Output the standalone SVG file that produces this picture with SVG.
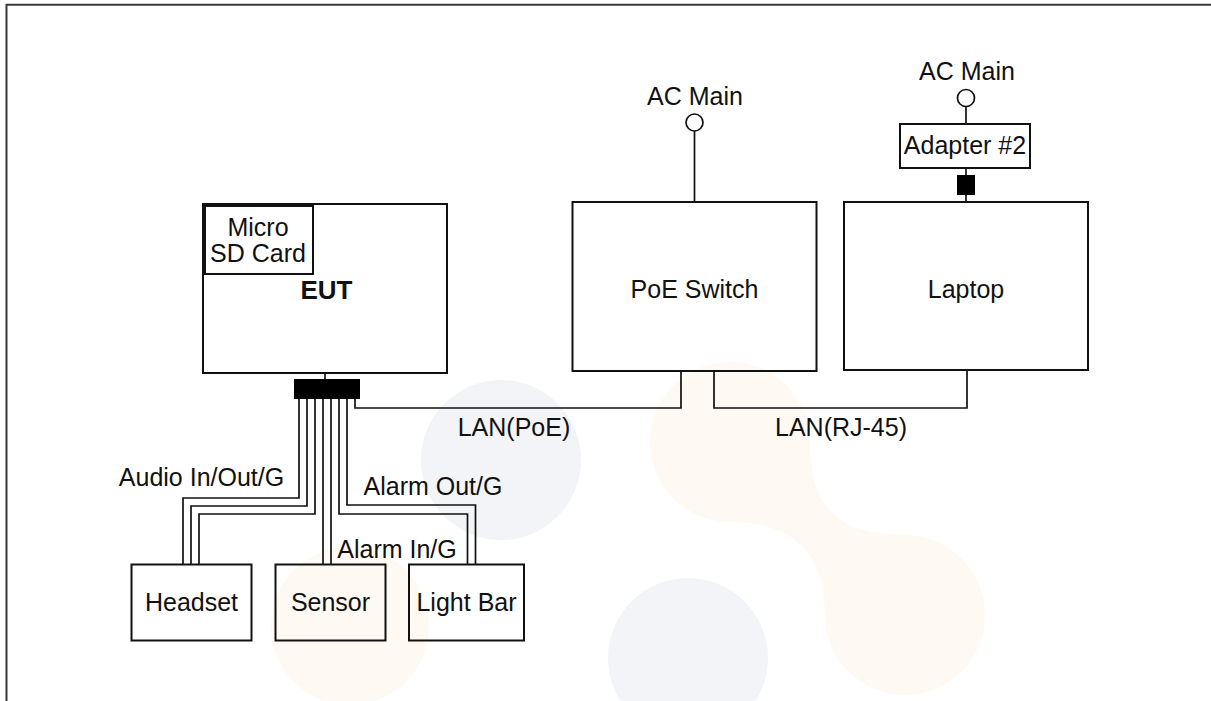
<svg xmlns="http://www.w3.org/2000/svg" width="1211" height="701" viewBox="0 0 1211 701">
<style>
.box{fill:none;stroke:#111;stroke-width:2}
.wire{fill:none;stroke:#111;stroke-width:1.7}
.t{font-family:"Liberation Sans",Arial,sans-serif;font-size:25px;fill:#111;text-anchor:middle}
.b{font-weight:bold;font-size:26px}
.wmg{fill:#f3f4f8}
.wmo{fill:#fef9f2}
</style>
<rect x="0" y="0" width="1211" height="701" fill="#fff"/>
<g id="watermark">
<circle class="wmg" cx="501" cy="460" r="80"/>
<circle class="wmg" cx="688" cy="658" r="80"/>
<circle class="wmo" cx="350" cy="626" r="79"/>
<path class="wmo" d="M650,442 A80,80 0 0 1 810,442 C810,500 830,535 905,535 A80,80 0 0 1 905,695 A80,80 0 0 1 825,615 C825,560 800,522 730,522 A80,80 0 0 1 650,442 Z"/>
</g>
<path d="M6.5,701 V4.8 H1211" fill="none" stroke="#3a3a3a" stroke-width="2"/>
<g id="connectors">
<path class="wire" d="M325,373 V380"/>
<path class="wire" d="M299,399 V498 H183 V565"/>
<path class="wire" d="M307,399 V506 H191 V565"/>
<path class="wire" d="M315,399 V514 H199 V565"/>
<path class="wire" d="M323,399 V565"/>
<path class="wire" d="M331,399 V565"/>
<path class="wire" d="M339,399 V514 H467.5 V565"/>
<path class="wire" d="M347,399 V505 H475.5 V565"/>
<path class="wire" d="M355,399 V408 H681 V371"/>
<path class="wire" d="M714,371 V408 H967 V370"/>
<path class="wire" d="M694.5,131 V202"/>
<path class="wire" d="M966,107 V124"/>
<path class="wire" d="M966,168 V202"/>
<text class="t" x="201.5" y="486">Audio In/Out/G</text>
<text class="t" x="433" y="495">Alarm Out/G</text>
<text class="t" x="397" y="558">Alarm In/G</text>
<text class="t" x="514" y="436">LAN(PoE)</text>
<text class="t" x="841" y="436">LAN(RJ-45)</text>
</g>
<g id="eut">
<rect class="box" x="203" y="204" width="244" height="169"/>
<text class="t b" x="326.5" y="299">EUT</text>
</g>
<g id="microsd">
<rect class="box" x="205" y="206" width="108" height="68"/>
<text class="t" x="258" y="236">Micro</text>
<text class="t" x="258" y="261.5">SD Card</text>
</g>
<g id="eut-connector">
<rect x="294" y="379" width="66" height="20" fill="#000"/>
</g>
<g id="poe-switch">
<rect class="box" x="572.5" y="202" width="244" height="169"/>
<text class="t" x="694.5" y="298">PoE Switch</text>
</g>
<g id="laptop">
<rect class="box" x="844" y="202" width="244" height="168"/>
<text class="t" x="966" y="298">Laptop</text>
</g>
<g id="ac-main-1">
<circle cx="694.5" cy="122.5" r="8.5" fill="#fff" stroke="#111" stroke-width="1.7"/>
<text class="t" x="695" y="105">AC Main</text>
</g>
<g id="ac-main-2">
<circle cx="966" cy="98" r="8.5" fill="#fff" stroke="#111" stroke-width="1.7"/>
<text class="t" x="967" y="80">AC Main</text>
</g>
<g id="adapter">
<rect class="box" x="900" y="124" width="130" height="44"/>
<text class="t" x="965" y="154">Adapter #2</text>
<rect x="957" y="175" width="18" height="20" fill="#000"/>
</g>
<g id="headset">
<rect class="box" x="131.5" y="564.5" width="120" height="76"/>
<text class="t" x="191.5" y="611">Headset</text>
</g>
<g id="sensor">
<rect class="box" x="275.5" y="564.5" width="110" height="76"/>
<text class="t" x="330.5" y="611">Sensor</text>
</g>
<g id="lightbar">
<rect class="box" x="409" y="564.5" width="115" height="76"/>
<text class="t" x="466.5" y="611">Light Bar</text>
</g>
</svg>
